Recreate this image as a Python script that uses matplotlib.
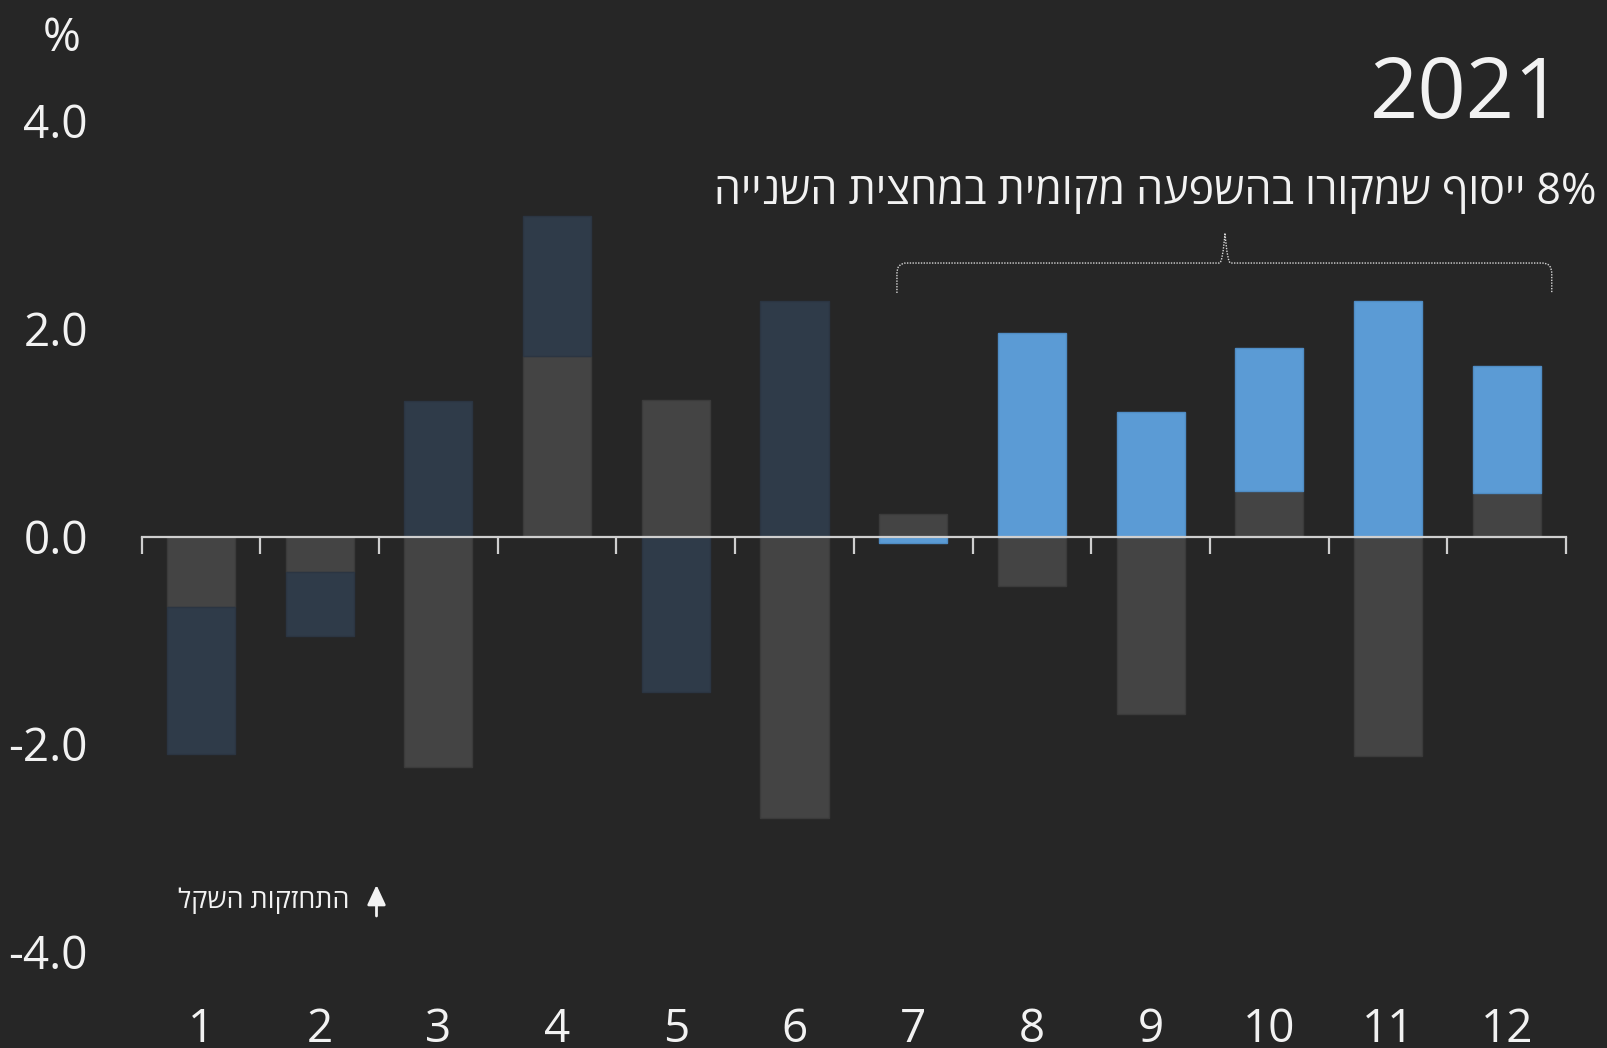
import matplotlib
matplotlib.use("Agg")
import matplotlib.pyplot as plt
from matplotlib.path import Path
from matplotlib.patches import PathPatch
from matplotlib.transforms import blended_transform_factory
import numpy as np

plt.rcParams['font.family'] = ['Open Sans', 'DejaVu Sans']

# ---------------- data ----------------
months = [1, 2, 3, 4, 5, 6, 7, 8, 9, 10, 11, 12]
month_labels = ["1", "2", "3", "4", "5", "6", "7", "8", "9", "10", "11", "12"]
global_effect = [-0.68, -0.34, -2.22, 1.74, 1.31, -2.71, 0.22, -0.48, -1.71, 0.44, -2.11, 0.42]
local_effect = [-1.41, -0.62, 1.30, 1.34, -1.50, 2.27, -0.06, 1.96, 1.20, 1.37, 2.27, 1.22]
highlight = [False] * 6 + [True] * 6
ytick_values = [4.0, 2.0, 0.0, -2.0, -4.0]
ytick_labels = ["4.0", "2.0", "0.0", "-2.0", "-4.0"]
year_title = "2021"
annotation_text = "8% ייסוף שמקורו בהשפעה מקומית במחצית השנייה"
arrow_text = "התחזקות השקל"
unit_label = "%"

# ---------------- helpers ----------------
def is_hebrew(tok):
    return any('\u0590' <= c <= '\u05FF' for c in tok)

def visual(s):
    toks = s.split(' ')
    out = []
    for t in reversed(toks):
        out.append(t[::-1] if is_hebrew(t) else t)
    return ' '.join(out)

BG = '#262626'
GREY = '#444444'
DARK_BLUE = '#2f3b49'
BLUE = '#5b9bd5'
TXT = '#f2f2f2'
AXC = '#cfcfcf'

W, H = 1608, 1048
fig = plt.figure(figsize=(W / 100, H / 100), dpi=100, facecolor=BG)
ax = fig.add_axes([141.7 / W, 0, (1566 - 141.7) / W, 1])
ax.set_facecolor(BG)
ax.set_xlim(0.5, 12.5)
ax.set_ylim((536.5 - H) / 103.9, 536.5 / 103.9)

x = np.array(months)
g = np.array(global_effect)
l = np.array(local_effect)
bw = 0.573
local_colors = [BLUE if h else DARK_BLUE for h in highlight]
local_edges = ['#4f8cc4' if h else '#2b3542' for h in highlight]
bottoms = np.where(np.sign(l) == np.sign(g), g, 0.0)

ax.bar(x, g, width=bw, color=GREY, edgecolor='#3b3b3b', linewidth=1, zorder=2)
ax.bar(x, l, width=bw, bottom=bottoms, color=local_colors, edgecolor=local_edges,
       linewidth=1, zorder=2)

# zero axis with boundary ticks
for s in ['top', 'right', 'left']:
    ax.spines[s].set_visible(False)
ax.spines['bottom'].set_position(('data', 0))
ax.spines['bottom'].set_color(AXC)
ax.spines['bottom'].set_linewidth(1.6)
ax.spines['bottom'].set_zorder(3)
ax.set_xticks(np.arange(0.5, 13, 1.0))
ax.tick_params(axis='x', direction='out', length=12, width=1.6, color=AXC,
               labelbottom=False)
ax.set_yticks([])

# month labels
tr_x = blended_transform_factory(ax.transData, fig.transFigure)
for m, lab in zip(months, month_labels):
    ax.text(m, 1 - 1030 / H, lab, transform=tr_x, ha='center', va='center',
            fontsize=33, color=TXT)

# y labels
tr_y = blended_transform_factory(fig.transFigure, ax.transData)
for v, lab in zip(ytick_values, ytick_labels):
    ax.text(88 / W, v - 0.05, lab, transform=tr_y, ha='right', va='center',
            fontsize=33, color=TXT)

fig.text(62 / W, 1 - 39 / H, unit_label, ha='center', va='center', fontsize=33, color=TXT)
fig.text(1564 / W, 1 - 96 / H, year_title, ha='right', va='center', fontsize=61, color=TXT)
fig.text(1597 / W, 1 - 193 / H, visual(annotation_text), ha='right', va='center',
         fontsize=31, color=TXT)

# brace (dotted)
xl, xr, xm = 6.863, 12.38, 9.627
yb, yh, yp = 2.344, 2.632, 2.921
dx = 0.08
dy = 0.1
verts = [(xl, yb), (xl, yh - dy), (xl, yh), (xl + dx, yh),
         (xm - dx * 0.6, yh), (xm - 0.02, yh), (xm, yp),
         (xm + 0.02, yh), (xm + dx * 0.6, yh),
         (xr - dx, yh), (xr, yh), (xr, yh - dy), (xr, yb)]
codes = [Path.MOVETO, Path.LINETO, Path.CURVE3, Path.CURVE3,
         Path.LINETO, Path.CURVE3, Path.CURVE3,
         Path.CURVE3, Path.CURVE3,
         Path.LINETO, Path.CURVE3, Path.CURVE3, Path.LINETO]
ax.add_patch(PathPatch(Path(verts, codes), facecolor='none', edgecolor='#d8d8d8',
                       linewidth=1.0, linestyle=(0, (1, 1)), zorder=3))

# strengthening-of-shekel arrow
fig.text(349 / W, 1 - 901 / H, visual(arrow_text), ha='right', va='center',
         fontsize=19.5, color=TXT)
fig.add_artist(matplotlib.patches.FancyArrowPatch(
    (376.5 / W, 1 - 916 / H), (376.5 / W, 1 - 885 / H), transform=fig.transFigure,
    arrowstyle='-|>,head_length=0.6,head_width=0.28', color=TXT, linewidth=2.0,
    mutation_scale=20, shrinkA=0, shrinkB=0))

fig.savefig('out.png', dpi=100, facecolor=BG)
